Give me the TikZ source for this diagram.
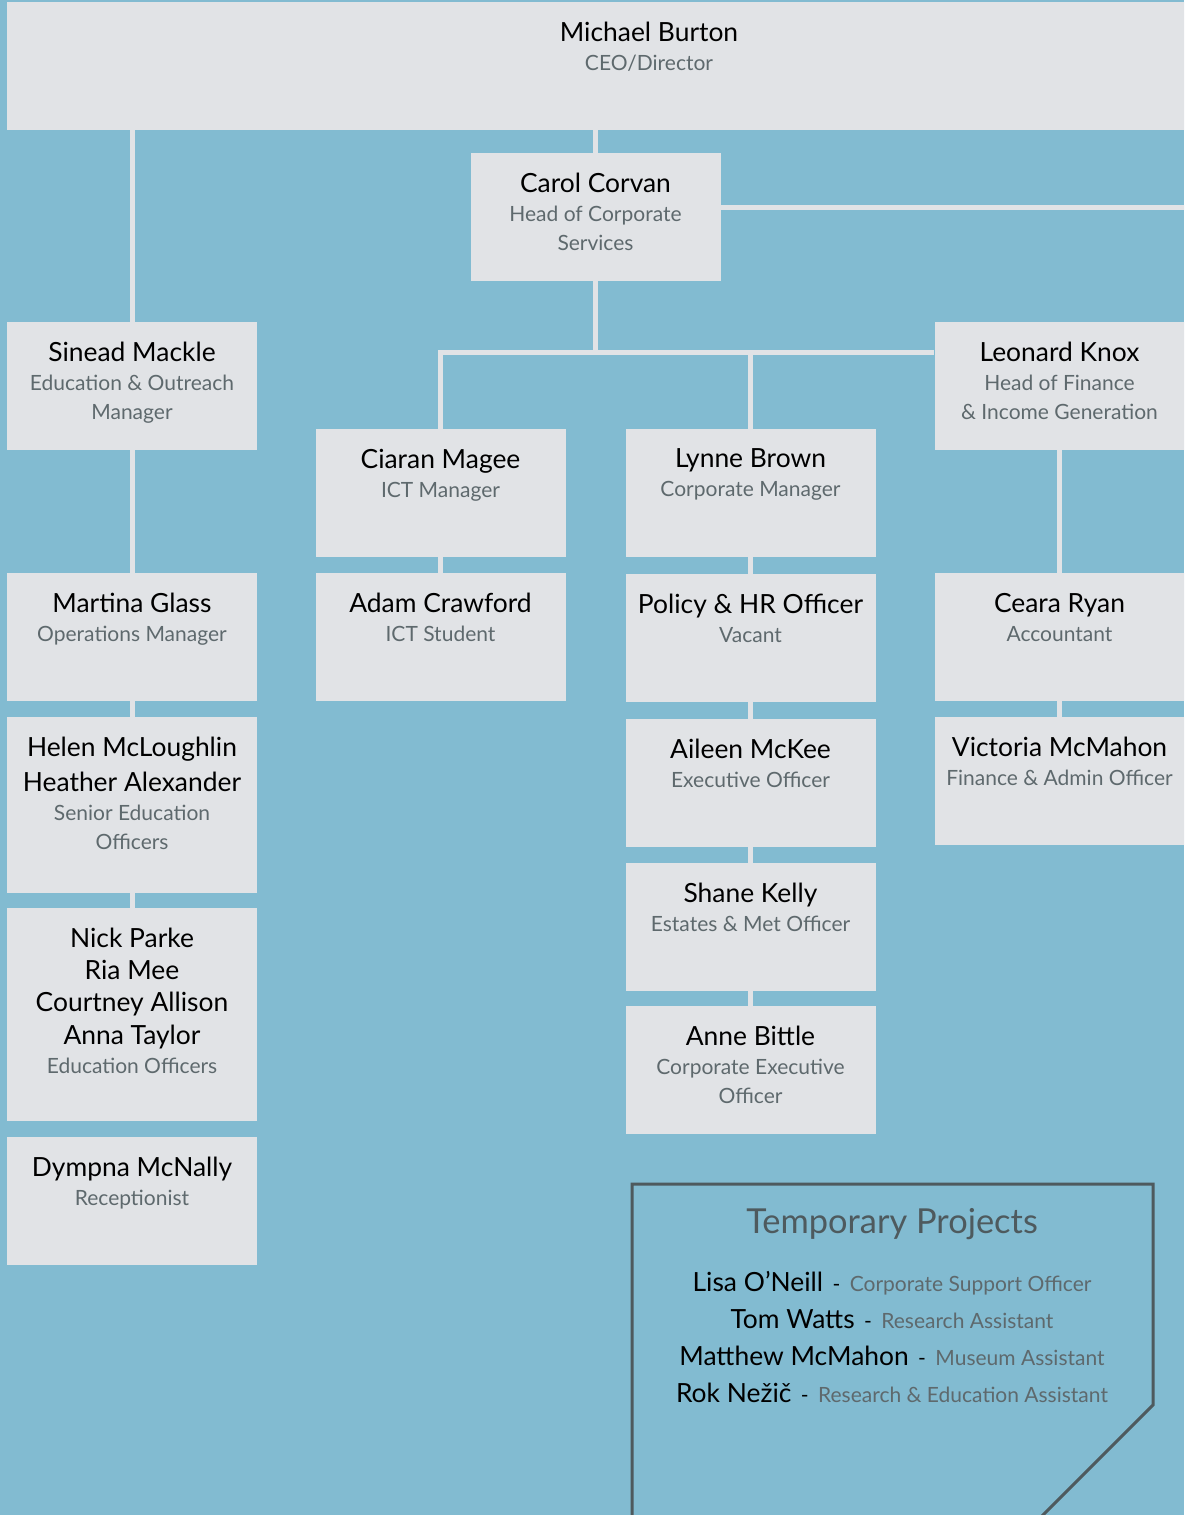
\documentclass[tikz,border=0pt]{standalone}
\usepackage{fontspec}
\setmainfont{Lato}
\definecolor{bgcolor}{HTML}{82BBD1}
\definecolor{boxcolor}{HTML}{E1E3E6}
\definecolor{rolecolor}{HTML}{5E696D}
\definecolor{framecolor}{HTML}{4E5A5E}
\newcommand{\nm}[1]{{\fontsize{13.2}{17}\selectfont\color{black}#1}}
\newcommand{\rl}[1]{{\color{rolecolor}#1}}
\newcommand{\sep}{\hspace{0.45em}-\hspace{0.45em}}

\begin{document}
\begin{tikzpicture}[x=0.5pt,y=-0.5pt,
  staff/.style={fill=boxcolor, minimum width=125pt, minimum height=64pt, inner sep=0pt},
  who/.style={anchor=north, align=center, inner sep=0pt, yshift=-10pt, font=\fontsize{10.5}{14.5}\selectfont},
  link/.style={draw=boxcolor, line width=2.5pt}]
	%background
	\fill[bgcolor] (0,0) rectangle (1184,1515);
	\clip (0,0) rectangle (1184,1515);
	%top
	\node[staff, minimum width=642pt, label={[who]north:\nm{Michael Burton}\\\rl{CEO/Director}}] (mb) at (649,66) {};
	\node[staff, label={[who]north:\nm{Carol Corvan}\\\rl{Head of Corporate}\\\rl{Services}}] (cc) at (595.5,217) {};
	%second row
	\node[staff, label={[who]north:\nm{Sinead Mackle}\\\rl{Education \& Outreach}\\\rl{Manager}}] (sm) at (132,386) {};
	\node[staff, label={[who]north:\nm{Leonard Knox}\\\rl{Head of Finance}\\\rl{\& Income Generation}}] (lk) at (1059.5,386) {};
	\node[staff, label={[who]north:\nm{Ciaran Magee}\\\rl{ICT Manager}}] (cm) at (440.5,493) {};
	\node[staff, label={[who]north:\nm{Lynne Brown}\\\rl{Corporate Manager}}] (lb) at (750.5,493) {};
	%third row
	\node[staff, label={[who]north:\nm{Martina Glass}\\\rl{Operations Manager}}] (mg) at (132,637) {};
	\node[staff, label={[who]north:\nm{Adam Crawford}\\\rl{ICT Student}}] (ac) at (440.5,637) {};
	\node[staff, label={[who]north:\nm{Policy \& HR Officer}\\\rl{Vacant}}] (ph) at (750.5,638) {};
	\node[staff, label={[who]north:\nm{Ceara Ryan}\\\rl{Accountant}}] (cr) at (1059.5,637) {};
	%lower boxes
	\node[staff, minimum height=88pt, label={[who]north:\nm{Helen McLoughlin}\\[3pt]\nm{Heather Alexander}\\\rl{Senior Education}\\\rl{Officers}}] (hm) at (132,805) {};
	\node[staff, label={[who]north:\nm{Aileen McKee}\\\rl{Executive Officer}}] (ak) at (750.5,783) {};
	\node[staff, label={[who]north:\nm{Victoria McMahon}\\\rl{Finance \& Admin Officer}}] (vm) at (1059.5,781) {};
	\node[staff, minimum height=106.5pt, label={[who]north:\nm{Nick Parke}\\[1.5pt]\nm{Ria Mee}\\[1.5pt]\nm{Courtney Allison}\\[2pt]\nm{Anna Taylor}\\\rl{Education Officers}}] (np) at (132,1014.5) {};
	\node[staff, label={[who]north:\nm{Shane Kelly}\\\rl{Estates \& Met Officer}}] (sk) at (750.5,927) {};
	\node[staff, label={[who]north:\nm{Anne Bittle}\\\rl{Corporate Executive}\\\rl{Officer}}] (ab) at (750.5,1070) {};
	\node[staff, label={[who]north:\nm{Dympna McNally}\\\rl{Receptionist}}] (dm) at (132,1201) {};
	%lines
	\coordinate (bus) at (595.5,352);
	\coordinate (rightedge) at (1190,207);
	\draw[link] (mb.south -| sm.north) -- (sm.north);
	\draw[link] (mb.south -| cc.north) -- (cc.north);
	\draw[link] ([yshift=5pt]cc.east) -- (rightedge);
	\draw[link] (cc.south) -- (bus);
	\draw[link] (cm.north) |- (bus -| lk.west);
	\draw[link] (lb.north) -- (lb.north |- bus);
	\draw[link] (sm.south) -- (mg.north);
	\draw[link] (mg.south) -- (hm.north);
	\draw[link] (hm.south) -- (np.north);
	\draw[link] (cm.south) -- (ac.north);
	\draw[link] (lb.south) -- (ph.north);
	\draw[link] (ph.south) -- (ak.north);
	\draw[link] (ak.south) -- (sk.north);
	\draw[link] (sk.south) -- (ab.north);
	\draw[link] (lk.south) -- (cr.north);
	\draw[link] (cr.south) -- (vm.north);
	%temporary projects
	\draw[framecolor, line width=1.5pt] (632,1520) -- (632,1184) -- (1153,1184) -- (1153,1405) -- (1038,1520);
	\node[text=framecolor, font=\fontsize{17.2}{21}\selectfont] (tptitle) at (892,1224) {Temporary Projects};
	\node[align=center, font=\fontsize{10.5}{18.5}\selectfont] (tplist) at (892,1337) {\nm{Lisa O’Neill}\sep\rl{Corporate Support Officer}\\
		\nm{Tom Watts}\sep\rl{Research Assistant}\\
		\nm{Matthew McMahon}\sep\rl{Museum Assistant}\\
		\nm{Rok Nežič}\sep\rl{Research \& Education Assistant}};
\end{tikzpicture}
\end{document}
